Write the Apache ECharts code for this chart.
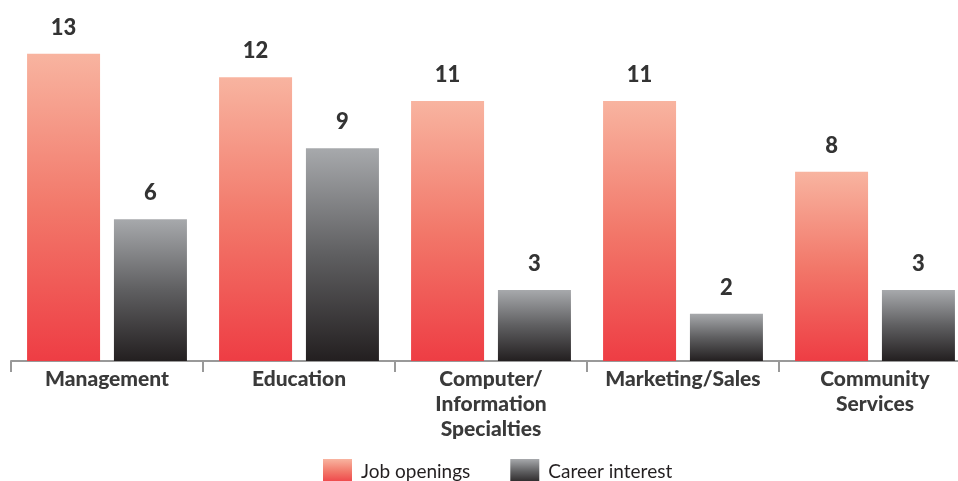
<!DOCTYPE html>
<html style="height: 100%">
<head>
    <meta charset="utf-8">
    <script src="https://cdn.jsdelivr.net/npm/echarts@6/dist/echarts.min.js"></script>
</head>
<body style="height: 100%; margin: 0; background: #fff">
    <div id="main" style="width:958px; height:481px;"></div>
    <script type="text/javascript">
        var categories = ['Management', 'Education', 'Computer/\nInformation\nSpecialties', 'Marketing/Sales', 'Community\nServices'];
        var jobOpenings = [13, 12, 11, 11, 8];
        var careerInterest = [6, 9, 3, 2, 3];

        var redFill = new echarts.graphic.LinearGradient(0, 0, 0, 1, [
            { offset: 0, color: '#f8b4a0' },
            { offset: 0.5, color: '#f2786a' },
            { offset: 1, color: '#ee3d44' }
        ]);
        var grayFill = new echarts.graphic.LinearGradient(0, 0, 0, 1, [
            { offset: 0, color: '#a7a9ac' },
            { offset: 0.5, color: '#5f5f61' },
            { offset: 1, color: '#231f20' }
        ]);

        var font = "'Lato', 'Open Sans', sans-serif";
        var myChart = echarts.init(document.getElementById('main'));

        var option = {
            animation: false,
            legend: {
                top: 454,
                left: 318,
                itemWidth: 29,
                itemHeight: 25,
                itemGap: 40,
                icon: 'rect',
                textStyle: { fontFamily: font, fontSize: 19, color: '#231f20', padding: [0, 0, 0, 4] },
                data: ['Job openings', 'Career interest']
            },
            grid: { left: 11, top: 30, width: 960, height: 331, outerBoundsMode: 'none' },
            xAxis: {
                type: 'category',
                data: categories,
                axisLine: { lineStyle: { color: '#999', width: 2 } },
                axisTick: { show: true, alignWithLabel: false, length: 11, lineStyle: { color: '#999', width: 2 } },
                axisLabel: {
                    interval: 0,
                    margin: 6,
                    fontFamily: font,
                    fontWeight: 900,
                    fontSize: 21,
                    lineHeight: 25,
                    color: '#3a3a3a'
                }
            },
            yAxis: {
                type: 'value',
                min: 0,
                max: 14,
                show: false
            },
            series: [{
                name: 'Job openings',
                type: 'bar',
                data: jobOpenings,
                barWidth: 73,
                barGap: '19%',
                itemStyle: { color: redFill },
                label: {
                    show: true, position: 'top', distance: 15,
                    fontFamily: font, fontWeight: 900, fontSize: 22, color: '#333'
                }
            }, {
                name: 'Career interest',
                type: 'bar',
                data: careerInterest,
                barWidth: 73,
                itemStyle: { color: grayFill },
                label: {
                    show: true, position: 'top', distance: 15,
                    fontFamily: font, fontWeight: 900, fontSize: 22, color: '#333'
                }
            }]
        };
        myChart.setOption(option, true);
    </script>
</body>
</html>
